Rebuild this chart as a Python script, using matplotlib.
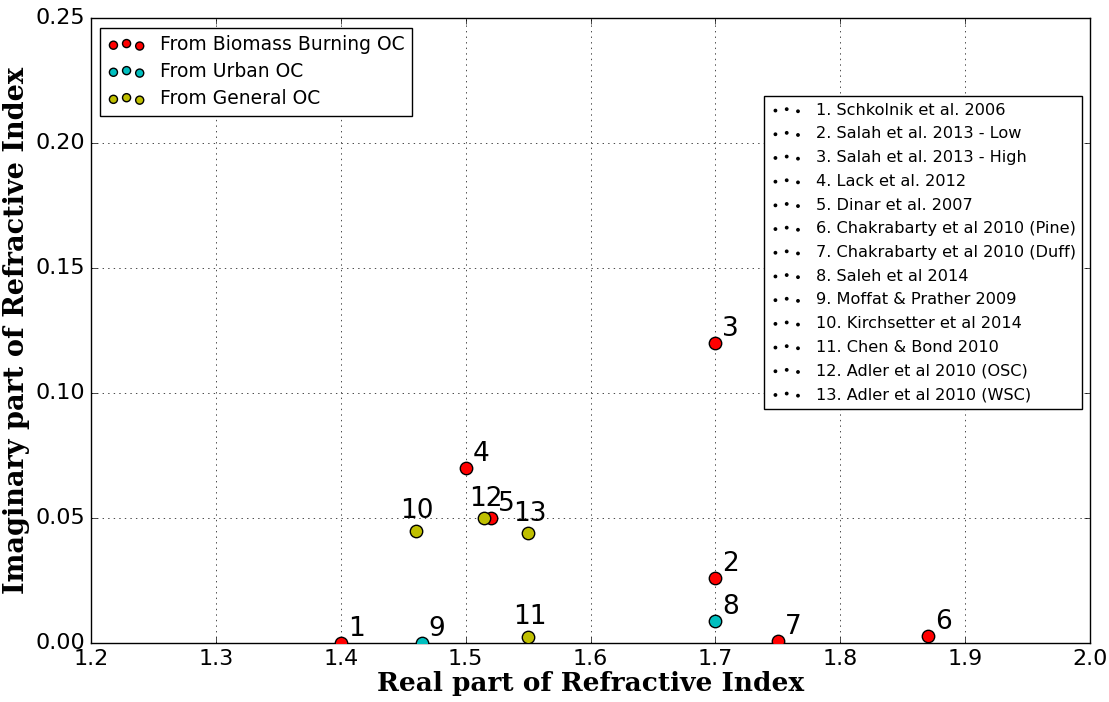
import matplotlib
matplotlib.use('Agg')
import matplotlib.pyplot as plt
import numpy as np

#%% Data
labels = ['1. Schkolnik et al. 2006', '2. Salah et al. 2013 - Low', '3. Salah et al. 2013 - High',
          '4. Lack et al. 2012', '5. Dinar et al. 2007', '6. Chakrabarty et al 2010 (Pine)',
          '7. Chakrabarty et al 2010 (Duff)', '8. Saleh et al 2014', '9. Moffat & Prather 2009',
          '10. Kirchsetter et al 2014', '11. Chen & Bond 2010', '12. Adler et al 2010 (OSC)',
          '13. Adler et al 2010 (WSC)']
n_real = [1.40, 1.70, 1.70, 1.50, 1.52, 1.87, 1.75, 1.70, 1.465, 1.46, 1.55, 1.515, 1.55]
k_imag = [0.0, 0.026, 0.12, 0.07, 0.05, 0.003, 0.001, 0.009, 0.0, 0.045, 0.0025, 0.05, 0.044]
source = ['bb', 'bb', 'bb', 'bb', 'bb', 'bb', 'bb', 'urban', 'urban', 'gen', 'gen', 'gen', 'gen']

groups = ['bb', 'urban', 'gen']
group_names = ['From Biomass Burning OC', 'From Urban OC', 'From General OC']
group_colors = ['r', 'c', 'y']

#%% Plot
plt.style.use('classic')
fig = plt.figure(figsize=(11.09, 7.02), dpi=100)
ax = fig.add_axes([0.082, 0.084, 0.901, 0.890])

n_real = np.array(n_real)
k_imag = np.array(k_imag)
source = np.array(source)
for g, name, c in zip(groups, group_names, group_colors):
    m = source == g
    ax.scatter(n_real[m], k_imag[m], s=80, c=c, edgecolors='k', label=name, zorder=3)

# numbers next to the points, two digit ones sit more to the left
for i in range(len(labels)):
    num = str(i + 1)
    off = (5, 5) if len(num) == 1 else (-11, 9)
    ax.annotate(num, (n_real[i], k_imag[i]), xytext=off, textcoords='offset points', fontsize=19)

ax.set_xlim(1.2, 2.0)
ax.set_ylim(0, 0.25)
ax.grid(True)
ax.tick_params(labelsize=16)
ax.set_xlabel('Real part of Refractive Index', fontsize=19, fontweight='bold', family='DejaVu Serif',
              labelpad=2)
ax.set_ylabel('Imaginary part of Refractive Index', fontsize=19.5, fontweight='bold', family='DejaVu Serif',
              labelpad=4)

leg1 = ax.legend(loc='upper left', fontsize=13.5, markerscale=0.65, labelspacing=0.43)
ax.add_artist(leg1)

proxies = [ax.scatter([], [], marker='.', s=12, c='k', edgecolors='k') for l in labels]
ax.legend(proxies, labels, loc='upper right', bbox_to_anchor=(0.992, 0.875), borderaxespad=0,
          fontsize=11.6, labelspacing=0.54)

fig.savefig('out.png', dpi=100)
